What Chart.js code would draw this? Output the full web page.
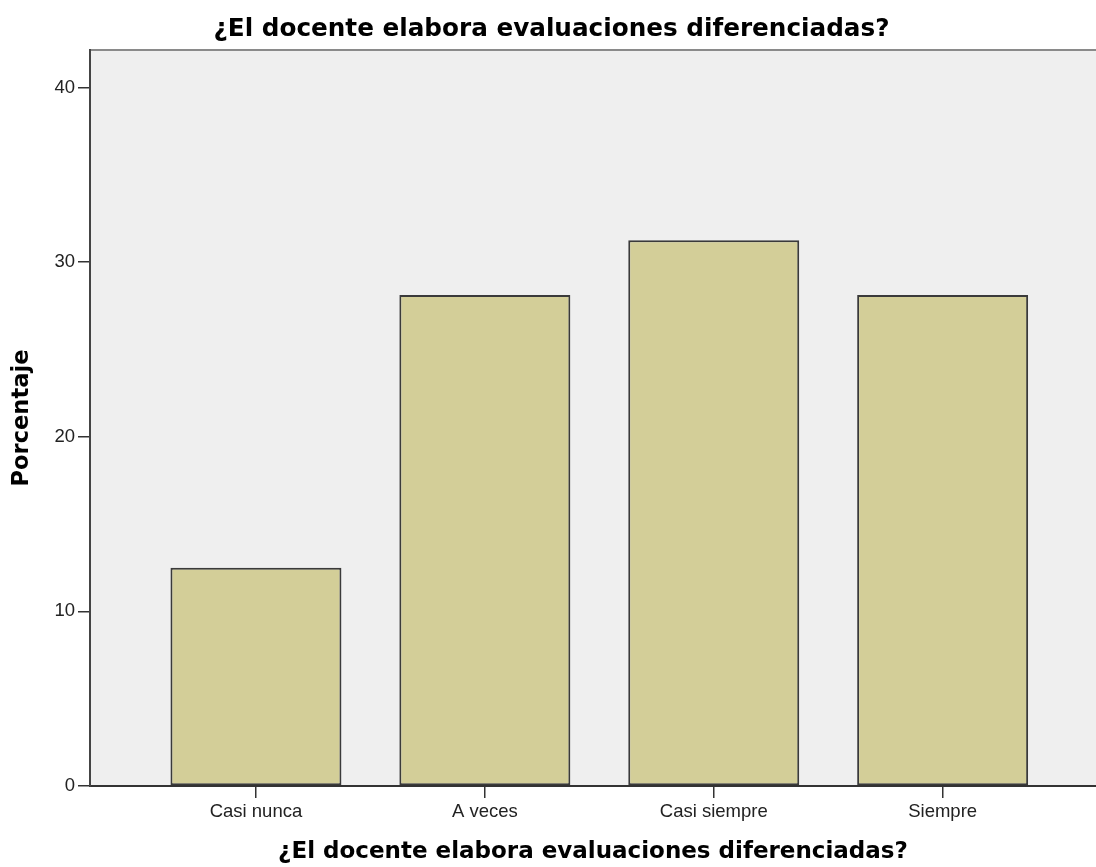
<!DOCTYPE html>
<html>
<head>
<meta charset="utf-8">
<script src="https://cdn.jsdelivr.net/npm/chart.js@4.4.1/dist/chart.umd.min.js"></script>
<style>
  html, body { margin: 0; padding: 0; background: #fff; }
  #wrap { width: 1096px; height: 867px; }
</style>
</head>
<body>
<div id="wrap"><canvas id="chart" width="1096" height="867"></canvas></div>
<script>
// values (percent of answers)
const categories = ['Casi nunca', 'A veces', 'Casi siempre', 'Siempre'];
const percentages = [12.5, 28.125, 31.25, 28.125];
const yTicks = [0, 10, 20, 30, 40];
const chartTitle = '¿El docente elabora evaluaciones diferenciadas?';
const yTitle = 'Porcentaje';

// grey plot area with the darker top edge, like SPSS draws it
const plotBackground = {
  id: 'plotBackground',
  beforeDraw(chart) {
    const { ctx, chartArea: a } = chart;
    ctx.save();
    ctx.fillStyle = '#efefef';
    ctx.fillRect(a.left, a.top, a.right - a.left, a.bottom - a.top);
    ctx.strokeStyle = '#8a8a8a';
    ctx.lineWidth = 2;
    ctx.beginPath();
    ctx.moveTo(a.left, a.top);
    ctx.lineTo(a.right, a.top);
    ctx.stroke();
    ctx.restore();
  }
};

const ctx = document.getElementById('chart');

new Chart(ctx, {
  type: 'bar',
  data: {
    datasets: [{
      label: yTitle,
      data: categories.map((c, i) => ({ x: i, y: percentages[i] })),
      backgroundColor: '#d3ce98',
      borderColor: '#3a3a3a',
      borderWidth: 2,
      borderSkipped: false,
      barPercentage: 0.747,
      categoryPercentage: 1,
    }],
  },
  options: {
    responsive: false,
    animation: false,
    layout: { padding: { left: 7, right: 0, top: 0, bottom: 0 } },
    plugins: {
      legend: { display: false },
      tooltip: { enabled: false },
      title: {
        display: true,
        text: chartTitle,
        color: '#000',
        font: { family: 'DejaVu Sans', weight: 'bold', size: 24.7, lineHeight: 1.2 },
        padding: { top: 15.2, bottom: 5.2 },
      },
    },
    scales: {
      x: {
        type: 'linear',
        min: -0.725,
        max: 3.67,
        offset: false,
        afterFit: s => { s.height = 81; },
        afterBuildTicks: s => { s.ticks = categories.map((c, i) => ({ value: i })); },
        ticks: {
          callback: v => categories[v],
          color: '#222',
          padding: 3,
          maxRotation: 0,
          font: { family: 'Liberation Sans', size: 18.5 },
        },
        grid: { drawOnChartArea: false, offset: false, tickLength: 12, color: '#333', lineWidth: 1.5 },
        border: { color: '#333', width: 2 },
        title: {
          display: true,
          text: chartTitle,
          color: '#000',
          font: { family: 'DejaVu Sans', weight: 'bold', size: 23, lineHeight: 1.2 },
          padding: { top: 0, bottom: 0.7 },
        },
      },
      y: {
        min: 0,
        max: 42.15,
        afterFit: s => { s.width = 83; },
        afterBuildTicks: s => { s.ticks = yTicks.map(v => ({ value: v })); },
        ticks: {
          color: '#222',
          padding: 3,
          font: { family: 'Liberation Sans', size: 18.5 },
        },
        grid: { drawOnChartArea: false, tickLength: 12, color: '#333', lineWidth: 1.5 },
        border: { color: '#444', width: 2 },
        title: {
          display: true,
          text: yTitle,
          color: '#000',
          font: { family: 'DejaVu Sans', weight: 'bold', size: 22.6, lineHeight: 1.2 },
          padding: { top: 1.4, bottom: 0 },
        },
      },
    },
  },
  plugins: [plotBackground],
});
</script>
</body>
</html>
